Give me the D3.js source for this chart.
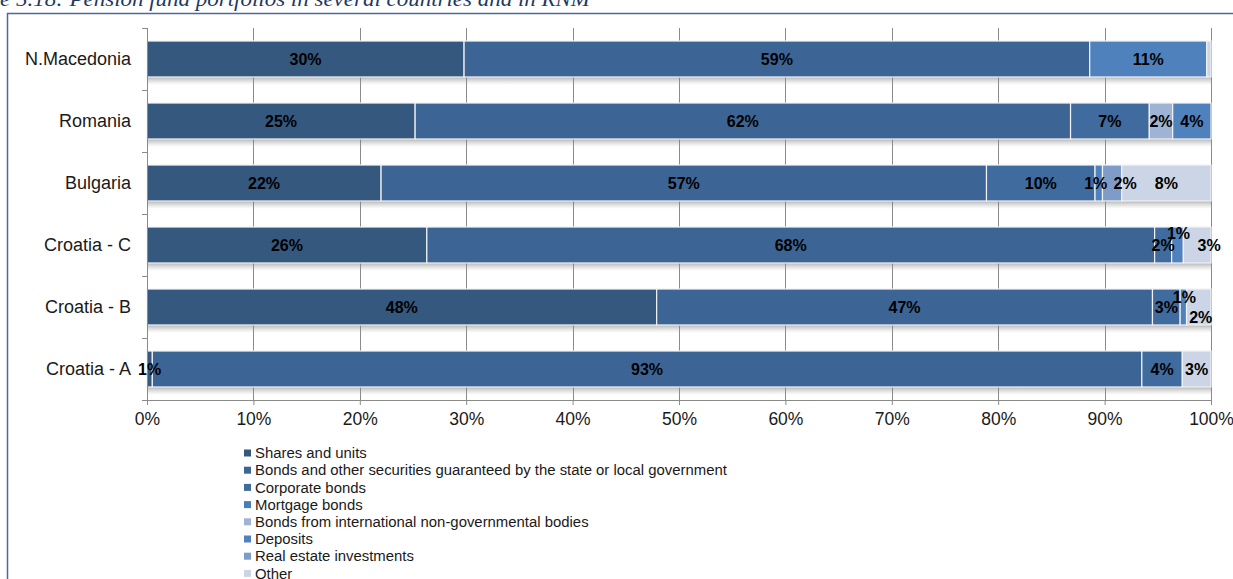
<!DOCTYPE html>
<html><head><meta charset="utf-8">
<script src="https://cdn.jsdelivr.net/npm/d3@7"></script>
<style>html,body{margin:0;padding:0;background:#fff;overflow:hidden}</style>
</head><body>
<svg id="c" width="1233" height="579"></svg>
<script>
const categories = ["N.Macedonia", "Romania", "Bulgaria", "Croatia - C", "Croatia - B", "Croatia - A"];
const seriesNames = [
  "Shares and units",
  "Bonds and other securities guaranteed by the state or local government",
  "Corporate bonds",
  "Mortgage bonds",
  "Bonds from international non-governmental bodies",
  "Deposits",
  "Real estate investments",
  "Other"
];
const shares      = [29.8, 25.2, 22.0, 26.3, 47.9, 0.5];
const govBonds    = [58.8, 61.6, 56.9, 68.4, 46.6, 93.0];
const corpBonds   = [0,    7.4,  10.2, 1.6,  2.6,  3.8];
const mortgage    = [0,    0,    0,    0,    0,    0];
const intlBonds   = [0,    2.2,  0,    0,    0,    0];
const deposits    = [11.0, 3.6,  0.7,  1.1,  0.6,  0];
const realEstate  = [0,    0,    1.8,  0,    0,    0];
const other       = [0.4,  0,    8.4,  2.6,  2.3,  2.7];
const xTicks = [0, 0.1, 0.2, 0.3, 0.4, 0.5, 0.6, 0.7, 0.8, 0.9, 1.0];
const colors = ["#35587f", "#3c6595", "#3f6b9f", "#4a7ebb", "#9fb3d4", "#4f81bd", "#7f9cc9", "#cbd5e6"];

const seriesValues = [shares, govBonds, corpBonds, mortgage, intlBonds, deposits, realEstate, other];
const keys = seriesNames.map((_, i) => "s" + i);
const rows = categories.map((c, ci) => {
  const r = {cat: c};
  keys.forEach((k, si) => r[k] = seriesValues[si][ci]);
  return r;
});

const svg = d3.select("#c");
const font = "'Liberation Sans', Arial, sans-serif";

// frame and title
svg.append("text").attr("x", 0).attr("y", 6)
  .attr("font-family", "'Liberation Serif', 'Times New Roman', serif")
  .attr("font-style", "italic").attr("font-size", 20).attr("fill", "#1f3864")
  .attr("textLength", 590).attr("lengthAdjust", "spacingAndGlyphs")
  .text("e 5.18: Pension fund portfolios in several countries and in RNM");
svg.append("path").attr("d", "M7.5,579 V13.5 H1233").attr("fill", "none")
  .attr("stroke", "#4a6a9c").attr("stroke-width", 1.5);

const x = d3.scaleLinear().domain([0, 1]).range([147, 1211]);
const y = d3.scaleBand().domain(categories).range([28, 400]).paddingInner(0.42).paddingOuter(0.21);

const stack = d3.stack().keys(keys).offset(d3.stackOffsetExpand);
const stacked = stack(rows);

// gridlines
svg.append("g").selectAll("line").data(xTicks.slice(1)).join("line")
  .attr("x1", d => Math.round(x(d)) + 0.5).attr("x2", d => Math.round(x(d)) + 0.5)
  .attr("y1", 28).attr("y2", 400).attr("stroke", "#8a8a8a").attr("stroke-width", 1);

// shadows
const defs = svg.append("defs");
const g = defs.append("linearGradient").attr("id", "sh").attr("x1", 0).attr("x2", 0).attr("y1", 0).attr("y2", 1);
g.append("stop").attr("offset", 0).attr("stop-color", "#777").attr("stop-opacity", 0.55);
g.append("stop").attr("offset", 1).attr("stop-color", "#aaa").attr("stop-opacity", 0);
svg.append("g").selectAll("rect").data(categories).join("rect")
  .attr("x", x(0) + 1).attr("width", x(1) - x(0))
  .attr("y", d => y(d) + y.bandwidth()).attr("height", 8).attr("fill", "url(#sh)");

// bars
svg.append("g").selectAll("g").data(stacked).join("g")
  .attr("fill", (d, i) => colors[i])
  .selectAll("rect").data(d => d.filter(p => p[1] - p[0] > 0)).join("rect")
  .attr("x", d => x(d[0])).attr("width", d => x(d[1]) - x(d[0]))
  .attr("y", d => y(d.data.cat)).attr("height", y.bandwidth())
  .attr("stroke", "#f2f2f2").attr("stroke-width", 1.2);

// axes
const xAxis = d3.axisBottom(x).tickValues(xTicks).tickFormat(d3.format(".0%")).tickSize(5).tickPadding(8);
const ax = svg.append("g").attr("transform", "translate(0,400)").call(xAxis);
ax.select(".domain").attr("stroke", "#8a8a8a");
ax.selectAll(".tick line").attr("stroke", "#8a8a8a");
ax.selectAll("text").attr("font-family", font).attr("font-size", 17.5).attr("fill", "#1a1a1a");

const yb = categories.map((c) => y(c) - y.step() * 0.21).concat([400]);
const ay = svg.append("g");
ay.append("line").attr("x1", 147.5).attr("x2", 147.5).attr("y1", 28).attr("y2", 400).attr("stroke", "#8a8a8a");
ay.selectAll(".tk").data(yb).join("line").attr("class", "tk")
  .attr("x1", 142).attr("x2", 147).attr("y1", d => Math.round(d) + 0.5).attr("y2", d => Math.round(d) + 0.5)
  .attr("stroke", "#8a8a8a");
ay.selectAll("text").data(categories).join("text")
  .attr("x", 131).attr("y", d => y(d) + y.bandwidth() / 2).attr("dy", "0.35em")
  .attr("text-anchor", "end").attr("font-family", font).attr("font-size", 18).attr("fill", "#1a1a1a")
  .text(d => d);

// data labels
const nudges = {"Bulgaria|5": [-3, 0], "Bulgaria|6": [13, 0], "Croatia - C|5": [1, -12], "Croatia - C|7": [12, 0],
                "Croatia - B|5": [1, -10], "Croatia - B|7": [2, 10]};
const labels = [];
stacked.forEach((s, si) => s.forEach((p) => {
  const v = seriesValues[si][categories.indexOf(p.data.cat)];
  if (Math.round(v) >= 1) labels.push({si, p, v});
}));
svg.append("g").selectAll("text").data(labels).join("text")
  .attr("x", d => (x(d.p[0]) + x(d.p[1])) / 2 + (nudges[d.p.data.cat + "|" + d.si] || [0, 0])[0])
  .attr("y", d => y(d.p.data.cat) + y.bandwidth() / 2 + (nudges[d.p.data.cat + "|" + d.si] || [0, 0])[1])
  .attr("dy", "0.36em").attr("text-anchor", "middle")
  .attr("font-family", font).attr("font-weight", "bold").attr("font-size", 16).attr("fill", "#000")
  .text(d => Math.round(d.v) + "%");

// legend
const lg = svg.append("g");
seriesNames.forEach((n, i) => {
  const yy = 453 + i * 17.2;
  lg.append("rect").attr("x", 244).attr("y", yy - 3.5).attr("width", 7).attr("height", 7).attr("fill", colors[i]);
  lg.append("text").attr("x", 255).attr("y", yy).attr("dy", "0.35em")
    .attr("font-family", font).attr("font-size", 14.9).attr("fill", "#1a1a1a").text(n);
});
</script>
</body></html>
